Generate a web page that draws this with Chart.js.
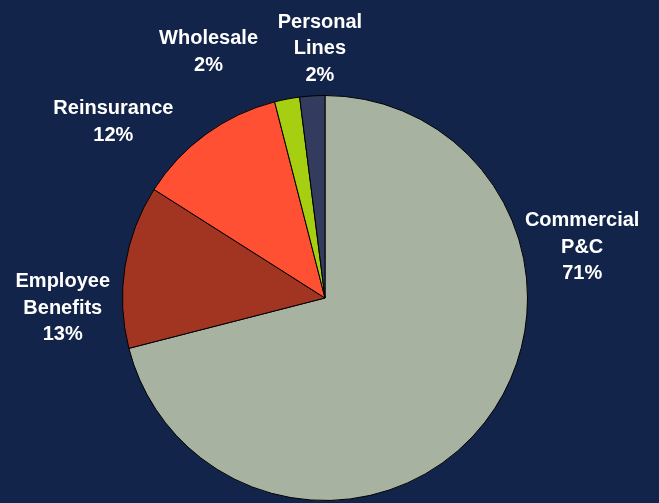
<!DOCTYPE html>
<html>
<head>
<meta charset="utf-8">
<script src="https://cdn.jsdelivr.net/npm/chart.js@4/dist/chart.umd.min.js"></script>
<style>
  html, body { margin: 0; padding: 0; background: #13244a; }
  #wrap { width: 659px; height: 503px; }
</style>
</head>
<body>
<div id="wrap"><canvas id="pie"></canvas></div>
<script>
const categories = ["Commercial P&C", "Employee Benefits", "Reinsurance", "Wholesale", "Personal Lines"];
const shares = [71, 13, 12, 2, 2];
const labelLines = [["Commercial", "P&C"], ["Employee", "Benefits"], ["Reinsurance"], ["Wholesale"], ["Personal", "Lines"]];
const sliceColors = ["#a7b3a0", "#a13522", "#ff5033", "#a6cf12", "#333c5e"];

// label anchor offsets from the pie centre, in units of the radius
const labelOffsets = [[1.27, -0.25], [-1.295, 0.05], [-1.045, -0.87], [-0.575, -1.215], [-0.025, -1.23]];

const outsideLabels = {
  id: "outsideLabels",
  afterDraw(chart) {
    const ctx = chart.ctx;
    const arc = chart.getDatasetMeta(0).data[0];
    const cx = arc.x;
    const cy = arc.y;
    const r = arc.outerRadius;
    ctx.save();
    ctx.fillStyle = "#ffffff";
    ctx.font = "bold 20px 'Liberation Sans', Arial, sans-serif";
    ctx.textAlign = "center";
    ctx.textBaseline = "middle";
    const lineHeight = 26.5;
    shares.forEach((value, i) => {
      const lines = [...labelLines[i], value + "%"];
      const x = cx + labelOffsets[i][0] * r;
      const y = cy + labelOffsets[i][1] * r;
      const top = y - ((lines.length - 1) * lineHeight) / 2;
      lines.forEach((text, j) => {
        ctx.fillText(text, x, top + j * lineHeight);
      });
    });
    ctx.restore();
  }
};

new Chart(document.getElementById("pie"), {
  type: "pie",
  data: {
    labels: categories,
    datasets: [{
      data: shares,
      backgroundColor: sliceColors,
      borderColor: "#000000",
      borderWidth: 1,
      hoverOffset: 0
    }]
  },
  options: {
    responsive: true,
    maintainAspectRatio: false,
    animation: false,
    layout: { padding: { top: 95, bottom: 2, left: 122, right: 131 } },
    plugins: {
      legend: { display: false },
      tooltip: { enabled: false }
    }
  },
  plugins: [outsideLabels]
});
</script>
</body>
</html>
